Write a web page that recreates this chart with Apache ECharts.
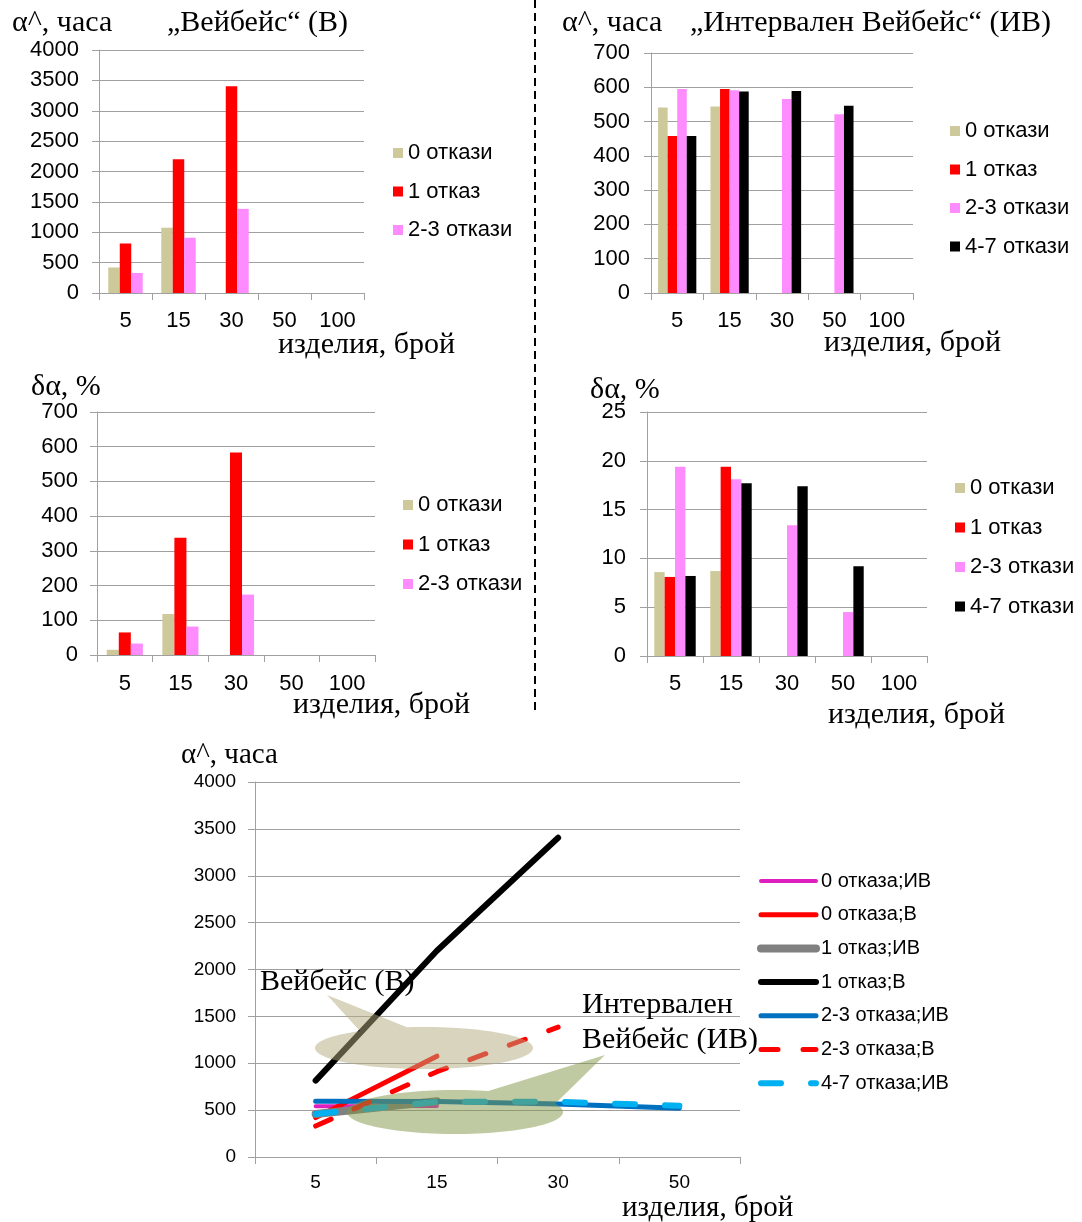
<!DOCTYPE html>
<html><head><meta charset="utf-8">
<script src="https://cdn.jsdelivr.net/npm/echarts@6/dist/echarts.min.js"></script>
<style>html,body{margin:0;padding:0;background:#fff}#c{width:1082px;height:1222px}</style>
</head><body><div id="c"></div>
<script>
// ---- data ----
const catTop = ['5', '15', '30', '50', '100'];
const catBottom = ['5', '15', '30', '50'];
const namesW = ['0 откази', '1 отказ', '2-3 откази'];
const namesIV = ['0 откази', '1 отказ', '2-3 откази', '4-7 откази'];
const namesLines = ['0 отказа;ИВ', '0 отказа;В', '1 отказ;ИВ', '1 отказ;В', '2-3 отказа;ИВ', '2-3 отказа;В', '4-7 отказа;ИВ'];
// α^ , Вейбейс (В)
const wA0 = [420, 1075, null, null, null];
const wA1 = [815, 2200, 3405, null, null];
const wA23 = [330, 910, 1385, null, null];
// α^ , Интервален Вейбейс (ИВ)
const ivA0 = [541, 544, null, null, null];
const ivA1 = [458, 595, null, null, null];
const ivA23 = [595, 591, 566, 521, null];
const ivA47 = [458, 588, 589, 546, null];
// δα , В
const wD0 = [15, 118, null, null, null];
const wD1 = [65, 338, 583, null, null];
const wD23 = [33, 82, 174, null, null];
// δα , ИВ
const ivD0 = [8.6, 8.7, null, null, null];
const ivD1 = [8.1, 19.4, null, null, null];
const ivD23 = [19.4, 18.1, 13.4, 4.5, null];
const ivD47 = [8.2, 17.7, 17.4, 9.2, null];
// bottom comparison lines
const lineData = [
  ivA0.slice(0, 4), wA0.slice(0, 4), ivA1.slice(0, 4), wA1.slice(0, 4),
  ivA23.slice(0, 4), wA23.slice(0, 4), ivA47.slice(0, 4)
];

// ---- styles ----
const barColors = ['#cdc99a', '#ff0000', '#ff8cff', '#000000'];
const lineStyles = [
  {color: '#dd1fbf', width: 4, type: 'solid'},
  {color: '#ff0000', width: 5, type: 'solid'},
  {color: '#808080', width: 8, type: 'solid'},
  {color: '#000000', width: 6, type: 'solid'},
  {color: '#0070c0', width: 5, type: 'solid'},
  {color: '#ff0000', width: 5, type: [17, 25]},
  {color: '#00b0f0', width: 6, type: [20, 30]}
];
const AX = '#a0a0a0';
const SANS = 'Liberation Sans';
const SERIF = 'Liberation Serif';

const grids = [
  {left: 99, top: 50, width: 265, height: 243},
  {left: 651, top: 53, width: 262, height: 240},
  {left: 97, top: 412, width: 278, height: 243},
  {left: 647, top: 412, width: 280, height: 244},
  {left: 255, top: 782, width: 485, height: 375}
].map(g => Object.assign({containLabel: false, outerBoundsMode: 'none'}, g));

function xAx(gi, cats, margin, fs) {
  return {type: 'category', gridIndex: gi, data: cats, boundaryGap: true,
    axisLine: {show: true, lineStyle: {color: AX, width: 1}},
    axisTick: {show: true, length: 7, interval: 0, alignWithLabel: false, lineStyle: {color: AX}},
    axisLabel: {interval: 0, margin: margin, fontSize: fs, color: '#000', fontFamily: SANS},
    splitLine: {show: false}};
}
function yAx(gi, max, interval, margin, fs) {
  return {type: 'value', gridIndex: gi, min: 0, max: max, interval: interval,
    axisLine: {show: true, lineStyle: {color: AX, width: 1}},
    axisTick: {show: true, length: 7, lineStyle: {color: AX}},
    axisLabel: {margin: margin, fontSize: fs, color: '#000', fontFamily: SANS,
      formatter: v => String(v)},
    splitLine: {show: true, lineStyle: {color: AX, width: 1}}};
}

const series = [];
function bars(gi, names, arrs, gap) {
  arrs.forEach((d, i) => {
    series.push({type: 'bar', name: names[i], xAxisIndex: gi, yAxisIndex: gi, data: d,
      barGap: '0%', barCategoryGap: gap, itemStyle: {color: barColors[i]}, silent: true});
  });
}
bars(0, namesW, [wA0, wA1, wA23], '35%');
bars(1, namesIV, [ivA0, ivA1, ivA23, ivA47], '27%');
bars(2, namesW, [wD0, wD1, wD23], '35%');
bars(3, namesIV, [ivD0, ivD1, ivD23, ivD47], '26%');
lineData.forEach((d, i) => {
  series.push({type: 'line', name: namesLines[i], xAxisIndex: 4, yAxisIndex: 4, data: d,
    symbol: 'none', showSymbol: false, connectNulls: false, silent: true,
    lineStyle: Object.assign({cap: 'round', join: 'round'}, lineStyles[i]),
    itemStyle: {color: lineStyles[i].color}, z: 2 + i});
});

function barLegend(names, left, top, fs, gap) {
  return {data: names, orient: 'vertical', left: left, top: top, icon: 'rect',
    itemWidth: 10, itemHeight: 10, itemGap: gap, selectedMode: false, padding: 0,
    textStyle: {fontSize: fs, fontFamily: SANS, color: '#000', lineHeight: 20}};
}

function txt(x, y, s, size, fam) {
  return {type: 'text', x: x, y: y, z: 20,
    style: {text: s, font: size + 'px "' + (fam || SERIF) + '"', fill: '#000',
      align: 'left', verticalAlign: 'middle', textAlign: 'left', textVerticalAlign: 'middle'}};
}
function callout(cx, cy, rx, ry, a1, a2, tip, color) {
  const pts = [];
  const r = Math.PI / 180;
  for (let a = 0; a <= a1; a += 3) pts.push([cx + rx * Math.cos(a * r), cy + ry * Math.sin(a * r)]);
  pts.push(tip);
  for (let a = a2; a < 360; a += 3) pts.push([cx + rx * Math.cos(a * r), cy + ry * Math.sin(a * r)]);
  return {type: 'polygon', z: 15, shape: {points: pts}, style: {fill: color, stroke: 'none'}, silent: true};
}

const option = {
  backgroundColor: '#fff',
  animation: false,
  grid: grids,
  xAxis: [xAx(0, catTop, 17, 22), xAx(1, catTop, 17, 22), xAx(2, catTop, 18, 22), xAx(3, catTop, 17, 22), xAx(4, catBottom, 16, 19)],
  yAxis: [yAx(0, 4000, 500, 20, 22), yAx(1, 700, 100, 21, 22), yAx(2, 700, 100, 19, 22), yAx(3, 25, 5, 21, 22), yAx(4, 4000, 500, 19, 19)],
  legend: [
    barLegend(namesW, 393, 142, 22, 16.5),
    barLegend(namesIV, 950, 120, 22, 16.5),
    barLegend(namesW, 403, 494, 22, 17.5),
    barLegend(namesIV, 955, 477, 22, 17.5),
    {data: namesLines, orient: 'vertical', left: 757, top: 871, itemWidth: 55, itemHeight: 14,
      itemGap: 13.7, selectedMode: false, padding: 0,
      itemStyle: {opacity: 0},
      lineStyle: {width: 'inherit', type: 'inherit', cap: 'round'},
      textStyle: {fontSize: 20, fontFamily: SANS, color: '#000', lineHeight: 18}}
  ],
  series: series,
  graphic: [
    {type: 'line', z: 20, shape: {x1: 535, y1: 0, x2: 535, y2: 712},
      style: {stroke: '#000', lineWidth: 2, lineDash: [8, 5]}},
    txt(12, 23, 'α^, часа', 30), txt(167, 23, '„Вейбейс“ (В)', 30),
    txt(562, 23, 'α^, часа', 30), txt(690, 23, '„Интервален Вейбейс“ (ИВ)', 30),
    txt(278, 345, 'изделия, брой', 30), txt(824, 343, 'изделия, брой', 30),
    txt(31, 387, 'δα, %', 30), txt(293, 705, 'изделия, брой', 30),
    txt(590, 390, 'δα, %', 30), txt(828, 715, 'изделия, брой', 30),
    txt(181, 755, 'α^, часа', 29), txt(622, 1208, 'изделия, брой', 29),
    txt(260, 982, 'Вейбейс (В)', 30),
    txt(582, 1005, 'Интервален', 30), txt(582, 1040, 'Вейбейс (ИВ)', 30),
    callout(424, 1048, 109, 21, 234, 261, [327, 995], 'rgba(180,170,125,0.5)'),
    callout(455, 1112, 108, 22, 290, 338, [605, 1055], 'rgba(130,150,70,0.5)')
  ]
};
const chart = echarts.init(document.getElementById('c'), null, {renderer: 'canvas'});
chart.setOption(option);
</script></body></html>
